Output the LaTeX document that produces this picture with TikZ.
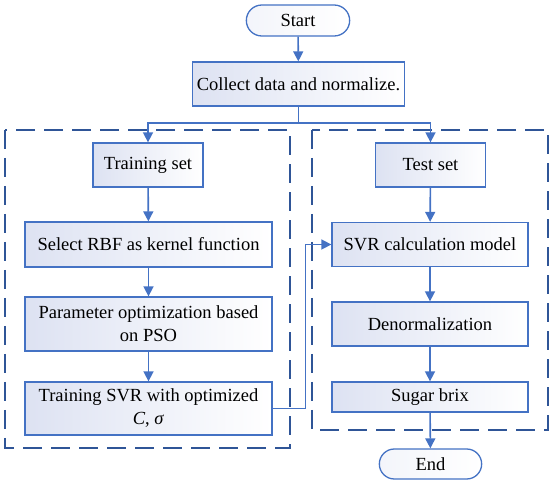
\documentclass[tikz,border=0pt]{standalone}
\usepackage{fontspec}
\setmainfont{Liberation Serif}
\usepackage{xcolor}
\usetikzlibrary{shapes,shapes.misc,arrows.meta,positioning,calc}
\definecolor{lineblue}{HTML}{4472C4}
\definecolor{dashblue}{HTML}{2F5597}
\definecolor{boxfill}{HTML}{DDE2F2}

\begin{document}
\begin{tikzpicture}[
    x=1pt, y=-1pt,
    font=\fontsize{18.5}{23}\selectfont,
    proc/.style={draw=lineblue, line width=1.3pt, left color=boxfill, right color=white, align=center, inner sep=2pt},
    term/.style={draw=lineblue, line width=1.3pt, rounded rectangle, left color=boxfill!35, right color=white, minimum width=110pt, minimum height=31pt},
    flow/.style={draw=lineblue, line width=1.6pt, -{Triangle[width=10pt,length=10pt]}},
    group/.style={draw=dashblue, line width=1.3pt, dash pattern=on 19pt off 9pt}
]
\useasboundingbox (0,0) rectangle (550,484);

% dashed groups
\draw[group] (5,130) rectangle (290,448);
\draw[group] (312,130) rectangle (548,430);

% nodes
\node[term] (start) at (298,20.5) {Start};
\node[proc, minimum width=212pt, minimum height=44pt] (collect) at (298.5,84) {Collect data and normalize.};

\node[proc, minimum width=110pt, minimum height=44pt] (train) at (148,165) {Training set};
\node[proc, minimum width=247pt, minimum height=45pt] (rbf) at (148.5,244.5) {Select RBF as kernel function};
\node[proc, minimum width=247pt, minimum height=54pt] (pso) at (148.5,324) {Parameter optimization based\\on PSO};
\node[proc, minimum width=247pt, minimum height=53pt] (tsvr) at (148.5,408.5) {Training SVR with optimized\\\textit{C}, \textit{σ}};

\node[proc, minimum width=110pt, minimum height=44pt] (test) at (430.5,165) {Test set};
\node[proc, minimum width=196pt, minimum height=44pt] (svr) at (430,244.5) {SVR calculation model};
\node[proc, minimum width=196pt, minimum height=44pt] (denorm) at (430,324) {Denormalization};
\node[proc, minimum width=196pt, minimum height=30pt] (brix) at (430,397) {Sugar brix};
\node[term, minimum width=109pt, minimum height=30pt] (end) at (430.5,464) {End};

% connectors
\coordinate (split) at (298.5,123);
\draw[flow] (start) -- (collect);
\draw[draw=lineblue, line width=1.6pt] (collect) -- (split);
\draw[flow] (split) -| (train);
\draw[flow] (split) -| (test);
\draw[flow] (train) -- (rbf);
\draw[flow] (rbf) -- (pso);
\draw[flow] (pso) -- (tsvr);
\draw[flow] (test) -- (svr);
\draw[flow] (svr) -- (denorm);
\draw[flow] (denorm) -- (brix);
\draw[flow] (brix) -- (end);
\draw[flow] (tsvr.east) -- ++(33,0) |- (svr.west);

\end{tikzpicture}
\end{document}
